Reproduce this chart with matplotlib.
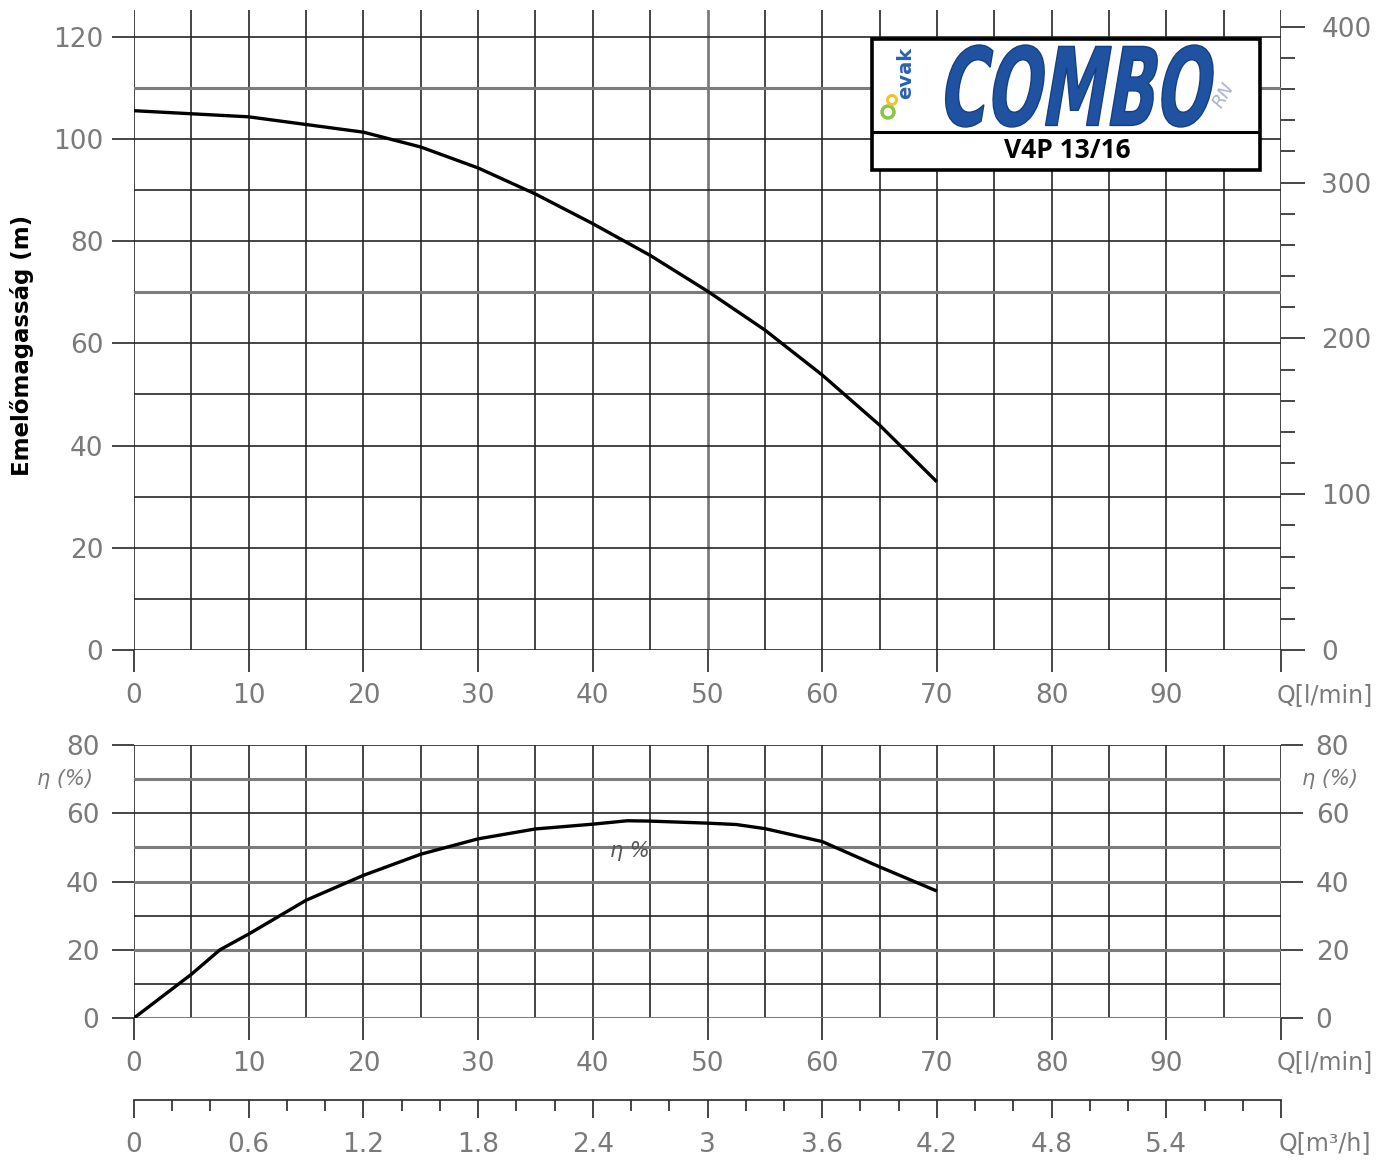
import numpy as np
import matplotlib
matplotlib.use("Agg")
import matplotlib.pyplot as plt
from matplotlib.textpath import TextPath
from matplotlib.patches import PathPatch, Rectangle, Circle
from matplotlib.path import Path
from matplotlib.font_manager import FontProperties
from matplotlib.ticker import MultipleLocator

# ====== données ======
q_head = [0, 5, 10, 15, 20, 25, 30, 35, 40, 45, 50, 55, 60, 65, 70]
h_head = [105.5, 104.9, 104.3, 102.8, 101.3, 98.4, 94.3, 89.2, 83.4, 77.2, 70.2, 62.6, 53.8, 44.0, 32.9]

q_eff = [0, 5, 7.5, 10, 15, 20, 25, 30, 35, 40, 43, 45, 50, 52.5, 55, 60, 65, 70]
eta = [0, 12.8, 20.0, 24.6, 34.5, 41.8, 48.0, 52.5, 55.4, 56.8, 57.8, 57.7, 57.1, 56.7, 55.5, 51.7, 44.3, 37.2]

q_ticks = [0, 10, 20, 30, 40, 50, 60, 70, 80, 90, 100]
q_labels = ["0", "10", "20", "30", "40", "50", "60", "70", "80", "90", ""]
h_ticks = [0, 20, 40, 60, 80, 100, 120]
ft_ticks = [0, 100, 200, 300, 400]
eta_ticks = [0, 20, 40, 60, 80]
m3_ticks = [0, 0.6, 1.2, 1.8, 2.4, 3.0, 3.6, 4.2, 4.8, 5.4, 6.0]
m3_labels = ["0", "0.6", "1.2", "1.8", "2.4", "3", "3.6", "4.2", "4.8", "5.4", ""]

M_TO_FT = 3.2808
H_TOP = 125.2

W, H = 1397, 1164
GRID = "#262626"
GRAY = "#7c7c7c"
LAB = "#7a7a7a"

fig = plt.figure(figsize=(W / 100, H / 100), dpi=100)


def px_rect(l, t, r, b):
    return [l / W, 1 - b / H, (r - l) / W, (b - t) / H]


def draw_grid(ax, ymax, ystep, gray_h=(), gray_v=()):
    for q in np.arange(0, 101, 5):
        if q in gray_v:
            ax.axvline(q, color=GRAY, lw=2.0, zorder=1)
        else:
            ax.axvline(q, color=GRID, lw=1.2, zorder=1)
    for h in np.arange(0, ymax + 1, ystep):
        if h in gray_h:
            ax.axhline(h, color=GRAY, lw=2.2, zorder=1)
        else:
            ax.axhline(h, color=GRID, lw=1.2, zorder=1)
    for s in ax.spines.values():
        s.set_visible(False)


# ====== 1) hauteur ======
ax1 = fig.add_axes(px_rect(134, 10, 1281, 650))
ax1.set_xlim(0, 100)
ax1.set_ylim(0, H_TOP)
draw_grid(ax1, 120, 10, gray_h=(110, 70), gray_v=(50,))
ax1.set_xticks(q_ticks)
ax1.set_xticklabels(q_labels)
ax1.set_yticks(h_ticks)
ax1.tick_params(axis="both", direction="out", length=16, width=1.2, color=GRID,
                labelcolor=LAB, labelsize=19)
ax1.tick_params(axis="x", pad=8)
ax1.tick_params(axis="y", pad=6)
ax1.plot(q_head, h_head, color="black", lw=2.4, zorder=5, solid_capstyle="butt")

ax1r = ax1.twinx()
ax1r.set_ylim(0, H_TOP * M_TO_FT)
ax1r.set_yticks(ft_ticks)
ax1r.yaxis.set_minor_locator(MultipleLocator(20))
for s in ax1r.spines.values():
    s.set_visible(False)
ax1r.tick_params(axis="y", which="major", direction="out", length=17, width=1.2,
                 color=GRID, labelcolor=LAB, labelsize=19, pad=12)
ax1r.tick_params(axis="y", which="minor", direction="out", length=10, width=1.2, color=GRID)

fig.text(22 / W, 1 - 345 / H, "Emelőmagasság (m)", rotation=90, ha="center", va="center",
         fontsize=16.5, fontweight="bold", color="black")
fig.text(1325 / W, 1 - 695 / H, "Q[l/min]", ha="center", va="center", fontsize=17, color=LAB)

# ====== 2) rendement ======
ax2 = fig.add_axes(px_rect(134, 745, 1281, 1018))
ax2.set_xlim(0, 100)
ax2.set_ylim(0, 80)
draw_grid(ax2, 80, 10, gray_h=(70, 50, 40, 20, 0))
ax2.set_xticks(q_ticks)
ax2.set_xticklabels(q_labels)
ax2.set_yticks(eta_ticks)
ax2.tick_params(axis="both", direction="out", length=16, width=1.2, color=GRID,
                labelcolor=LAB, labelsize=19)
ax2.tick_params(axis="x", pad=8)
ax2.tick_params(axis="y", left=True, right=True, labelleft=True, labelright=True, pad=9)
ax2.plot(q_eff, eta, color="black", lw=2.4, zorder=5, solid_capstyle="butt")
ax2.text(43.2, 49, "η %", ha="center", va="center", fontsize=15, style="italic",
         color="#555555", zorder=6)

fig.text(65 / W, 1 - 779 / H, "η (%)", ha="center", va="center", fontsize=15,
         style="italic", color=LAB)
fig.text(1330 / W, 1 - 779 / H, "η (%)", ha="center", va="center", fontsize=15,
         style="italic", color=LAB)
fig.text(1325 / W, 1 - 1062 / H, "Q[l/min]", ha="center", va="center", fontsize=17, color=LAB)

# ====== 3) échelle m3/h ======
ax3 = fig.add_axes(px_rect(134, 1099, 1281, 1100))
ax3.set_xlim(0, 6.0)
ax3.set_yticks([])
for k in ("top", "left", "right"):
    ax3.spines[k].set_visible(False)
ax3.spines["bottom"].set_color(GRID)
ax3.spines["bottom"].set_linewidth(1.2)
ax3.set_xticks(m3_ticks)
ax3.set_xticklabels(m3_labels)
ax3.xaxis.set_minor_locator(MultipleLocator(0.2))
ax3.tick_params(axis="x", which="major", direction="out", length=13, width=1.2,
                color=GRID, labelcolor=LAB, labelsize=19, pad=10)
ax3.tick_params(axis="x", which="minor", direction="out", length=8, width=1.2, color=GRID)
ax3.patch.set_visible(False)
fig.text(1325 / W, 1 - 1143 / H, "Q[m³/h]", ha="center", va="center", fontsize=17, color=LAB)

# ====== 4) cartouche COMBO ======
lax = fig.add_axes(px_rect(872, 39, 1260, 170))
lax.set_xlim(0, 388)
lax.set_ylim(0, 131)
lax.axis("off")
lax.set_zorder(10)
lax.add_patch(Rectangle((0, 0), 388, 131, fc="white", ec="black", lw=2.6, clip_on=False))
lax.plot([0, 388], [38, 38], color="black", lw=2.2)

fp = FontProperties(family="DejaVu Sans", weight="bold")
tp = TextPath((0, 0), "COMBO", size=1, prop=fp)
v = tp.vertices.copy()
v[:, 0] = v[:, 0] + 0.28 * v[:, 1]   # italique plus marqué
x0, x1 = v[:, 0].min(), v[:, 0].max()
y0, y1 = v[:, 1].min(), v[:, 1].max()
v[:, 0] = 65 + (v[:, 0] - x0) / (x1 - x0) * 278
v[:, 1] = 43 + (v[:, 1] - y0) / (y1 - y0) * 82
lax.add_patch(PathPatch(Path(v, tp.codes), fc="#1f52a0", ec="#163f82", lw=1))

lax.text(34, 97, "evak", rotation=90, ha="center", va="center", fontsize=14,
         fontweight="bold", color="#2a62b0")
lax.add_patch(Circle((16, 58), 6, fc="none", ec="#8cc63f", lw=2.5))
lax.add_patch(Circle((20, 70), 4.5, fc="none", ec="#f2c230", lw=2.2))
lax.text(352, 75, "RN", ha="center", va="center", fontsize=13, style="italic",
         color="#a9b4c8", rotation=60)
lax.text(195, 19, "V4P 13/16", ha="center", va="center", fontsize=19,
         fontweight="bold", family=["Open Sans", "DejaVu Sans"], color="black")

fig.savefig("out.png", dpi=100)
